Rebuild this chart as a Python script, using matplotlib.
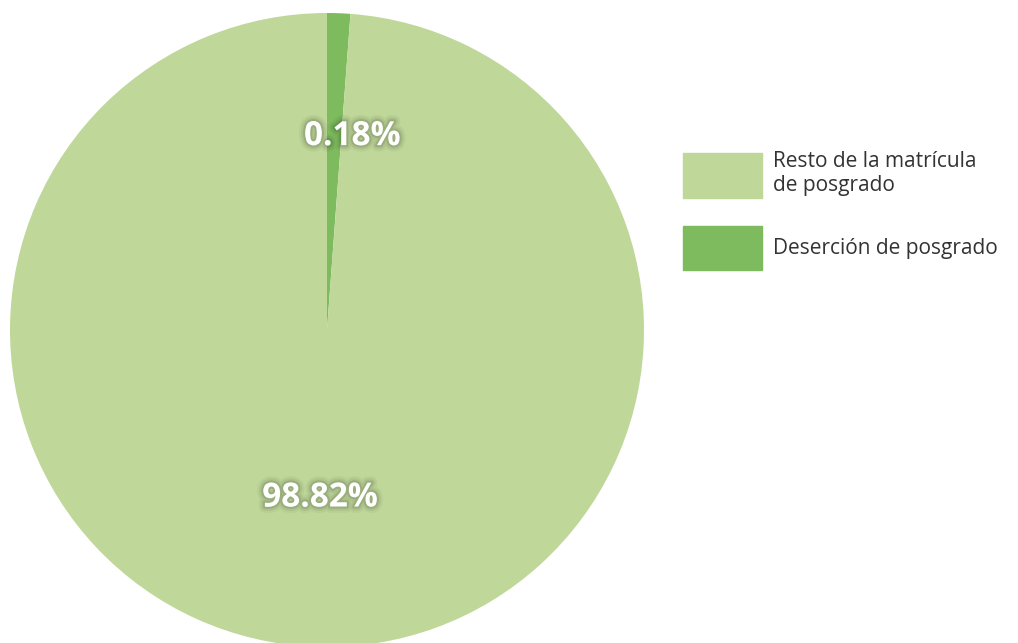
import matplotlib.pyplot as plt
import matplotlib.patches as mpatches
import matplotlib.patheffects as pe

# Data
categories = ['Deserción de posgrado', 'Resto de la matrícula\nde posgrado']
values = [1.18, 98.82]
pct_labels = ['0.18%', '98.82%']
colors = ['#7DBB5E', '#BFD899']

plt.rcParams['font.family'] = ['Open Sans', 'DejaVu Sans']

W, H = 1018, 643
fig = plt.figure(figsize=(W / 100, H / 100), dpi=100)

# pie centre (327, 330) px from top, radius 317 px
cx, cy, r = 327, H - 330, 317
ax = fig.add_axes([(cx - r) / W, (cy - r) / H, 2 * r / W, 2 * r / H])

wedges, _ = ax.pie(values, colors=colors, startangle=90, counterclock=False,
                   radius=1, wedgeprops=dict(linewidth=0))
ax.set_xlim(-1, 1)
ax.set_ylim(-1, 1)
ax.axis('off')

# percentage labels with soft dark glow
glow = [pe.Stroke(linewidth=9, foreground='black', alpha=0.04),
        pe.Stroke(linewidth=6, foreground='black', alpha=0.06),
        pe.Stroke(linewidth=3, foreground='black', alpha=0.1),
        pe.Normal()]
label_pos = [(0.08, 0.61), (-0.022, -0.53)]
for txt, (x, y) in zip(pct_labels, label_pos):
    ax.text(x, y, txt, ha='center', va='center', color='white',
            fontsize=24, fontweight='bold', path_effects=glow)

# legend (light first, as in the original)
handles = [mpatches.Patch(color=colors[1], label=categories[1]),
           mpatches.Patch(color=colors[0], label=categories[0])]
fig.legend(handles=handles, loc='upper left',
           bbox_to_anchor=(683 / W, 1 - 151 / H), frameon=False,
           fontsize=15, handlelength=3.8, handleheight=2.9,
           labelspacing=1.35, handletextpad=0.5, borderpad=0, borderaxespad=0,
           labelcolor='#333333')

fig.savefig('out.png', dpi=100, facecolor='white')
